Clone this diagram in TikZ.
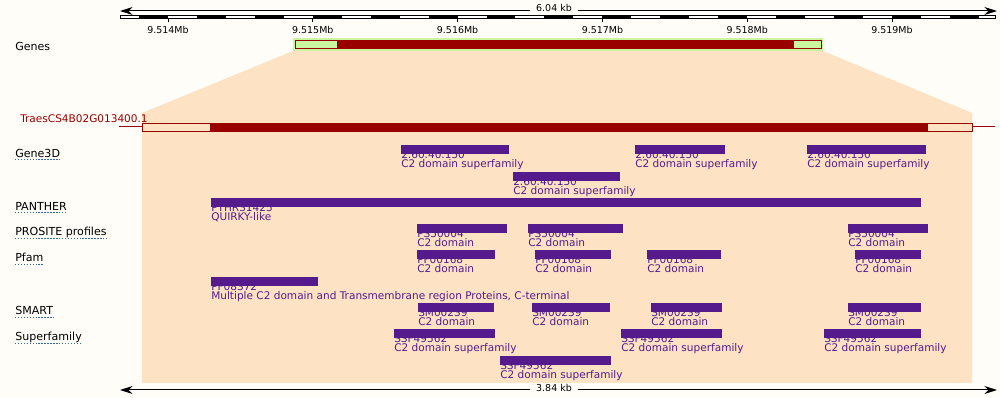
\documentclass[tikz,border=0pt]{standalone}
\usepackage{fontspec}
\setmainfont{DejaVu Sans}
\usetikzlibrary{arrows.meta, positioning}
\definecolor{PageBg}{HTML}{FEFDF8}
\definecolor{ZoomPeach}{HTML}{FDE3C4}
\definecolor{GeneRed}{HTML}{990000}
\definecolor{UtrGreen}{HTML}{CCF5A0}
\definecolor{DomainPurple}{HTML}{551A8B}
\definecolor{LinkBlue}{HTML}{3366AA}
\tikzset{
  % Text styles
  tracklabel/.style={anchor=base west, inner sep=0pt, font=\fontsize{8.3}{9}\selectfont},
  ticklabel/.style={anchor=base, inner sep=0pt, font=\fontsize{7.1}{8}\selectfont},
  kblabel/.style={anchor=base, fill=PageBg, inner xsep=5pt, inner ysep=1pt, font=\fontsize{7.1}{8}\selectfont},
  domlabel/.style={anchor=base west, inner sep=0pt, align=left, text=DomainPurple, font=\fontsize{7.9}{6.75}\selectfont},
  % Shape styles
  dombar/.style={fill=DomainPurple},
  exon/.style={fill=GeneRed},
  utr/.style={draw=GeneRed, line width=0.75pt},
  % Line styles
  scalearrow/.style={{Stealth[length=9.5pt,width=6pt]}-{Stealth[length=9.5pt,width=6pt]}, line width=0.75pt},
  linkline/.style={LinkBlue, line width=0.75pt, dash pattern=on 1.1pt off 1.1pt}
}

\begin{document}
\begin{tikzpicture}[x=0.75pt, y=-0.75pt]
  \useasboundingbox (0,0) rectangle (1000,398);
  \fill[PageBg] (0,0) rectangle (1000,398);

  % Top scale: 6.04 kb
  \coordinate (topL) at (120,11);
  \coordinate (topR) at (997,11);
  \draw[scalearrow] (topL) -- (topR);
  \node[kblabel] (topKb) at (554,12) {6.04 kb};

  % Ruler with alternating blocks
  \draw[line width=0.75pt, fill=white] (120,16) rectangle (995,19);
  \foreach \k in {0,...,14}
    \fill (139+57.92*\k,16) rectangle ++(28.96,3);
  \foreach \k/\pos in {0/9.514, 1/9.515, 2/9.516, 3/9.517, 4/9.518, 5/9.519} {
    \draw[line width=0.75pt] (168+144.8*\k,19) -- ++(0,3);
    \node[ticklabel] (tick\k) at (168+144.8*\k,34) {\pos Mb};
  }

  % Zoomed region
  \fill[ZoomPeach] (293,51) -- (823,51) -- (972,113) -- (972,383) -- (142,383) -- (142,113) -- cycle;

  % Genes
  \node[tracklabel] (lbGenes) at (15,51) {Genes};
  \fill[UtrGreen] (293,38) rectangle (823,51);
  \draw[utr, fill=UtrGreen] (295,40.5) rectangle (821,48.5);
  \fill[exon] (337,40.5) rectangle (794,48.5);

  % Transcript
  \coordinate (trL) at (119,127);
  \coordinate (trR) at (995,127);
  \draw[GeneRed, line width=0.75pt] (trL) -- (trR);
  \draw[utr, fill=ZoomPeach] (142,123.5) rectangle (972,131.5);
  \fill[exon] (210,123.5) rectangle (928,131.5);
  \node[tracklabel, text=GeneRed, font=\fontsize{7.9}{9}\selectfont] (lbTranscript) at (20,122.7) {TraesCS4B02G013400.1};

  % Track names
  \node[tracklabel] (lbGene3D) at (15,157.5) {Gene3D};
  \node[tracklabel] (lbPanther) at (15,210.5) {PANTHER};
  \node[tracklabel] (lbProsite) at (15,236) {PROSITE profiles\ };
  \node[tracklabel] (lbPfam) at (15,262) {Pfam};
  \node[tracklabel] (lbSmart) at (15,315) {SMART};
  \node[tracklabel] (lbSuperfamily) at (15,341) {Superfamily};
  \foreach \n in {lbGene3D, lbPanther, lbProsite, lbPfam, lbSmart, lbSuperfamily}
    \draw[linkline] ([yshift=-1.6pt]\n.base west) -- ([yshift=-1.6pt]\n.base east);

  % Gene3D
  \node[domlabel] (g3dA) at (401,168) {2.60.40.150\\C2 domain superfamily};
  \fill[dombar] (401,145) rectangle (509,154);
  \node[domlabel] (g3dB) at (635,168) {2.60.40.150\\C2 domain superfamily};
  \fill[dombar] (635,145) rectangle (725,154);
  \node[domlabel] (g3dC) at (807,168) {2.60.40.150\\C2 domain superfamily};
  \fill[dombar] (807,145) rectangle (926,154);
  \node[domlabel] (g3dD) at (513,195) {2.60.40.150\\C2 domain superfamily};
  \fill[dombar] (513,172) rectangle (620,181);

  % PANTHER
  \node[domlabel] (pthA) at (211,221) {PTHR31425\\QUIRKY-like};
  \fill[dombar] (211,198) rectangle (921,207);

  % PROSITE profiles
  \node[domlabel] (psA) at (417,247) {PS50004\\C2 domain};
  \fill[dombar] (417,224) rectangle (507,233);
  \node[domlabel] (psB) at (528,247) {PS50004\\C2 domain};
  \fill[dombar] (528,224) rectangle (623,233);
  \node[domlabel] (psC) at (848,247) {PS50004\\C2 domain};
  \fill[dombar] (848,224) rectangle (928,233);

  % Pfam
  \node[domlabel] (pfA) at (417,273) {PF00168\\C2 domain};
  \fill[dombar] (417,250) rectangle (495,259);
  \node[domlabel] (pfB) at (535,273) {PF00168\\C2 domain};
  \fill[dombar] (535,250) rectangle (611,259);
  \node[domlabel] (pfC) at (647,273) {PF00168\\C2 domain};
  \fill[dombar] (647,250) rectangle (721,259);
  \node[domlabel] (pfD) at (855,273) {PF00168\\C2 domain};
  \fill[dombar] (855,250) rectangle (921,259);
  \node[domlabel] (pfE) at (211,300) {PF08372\\Multiple C2 domain and Transmembrane region Proteins, C-terminal};
  \fill[dombar] (211,277) rectangle (318,286);

  % SMART
  \node[domlabel] (smA) at (418,326) {SM00239\\C2 domain};
  \fill[dombar] (418,303) rectangle (494,312);
  \node[domlabel] (smB) at (532,326) {SM00239\\C2 domain};
  \fill[dombar] (532,303) rectangle (610,312);
  \node[domlabel] (smC) at (651,326) {SM00239\\C2 domain};
  \fill[dombar] (651,303) rectangle (722,312);
  \node[domlabel] (smD) at (848,326) {SM00239\\C2 domain};
  \fill[dombar] (848,303) rectangle (921,312);

  % Superfamily
  \node[domlabel] (sfA) at (394,352) {SSF49562\\C2 domain superfamily};
  \fill[dombar] (394,329) rectangle (495,338);
  \node[domlabel] (sfB) at (621,352) {SSF49562\\C2 domain superfamily};
  \fill[dombar] (621,329) rectangle (722,338);
  \node[domlabel] (sfC) at (824,352) {SSF49562\\C2 domain superfamily};
  \fill[dombar] (824,329) rectangle (921,338);
  \node[domlabel] (sfD) at (500,379) {SSF49562\\C2 domain superfamily};
  \fill[dombar] (500,356) rectangle (611,365);

  % Bottom scale: 3.84 kb
  \coordinate (botL) at (120,390);
  \coordinate (botR) at (997,390);
  \draw[scalearrow] (botL) -- (botR);
  \node[kblabel] (botKb) at (554,391.5) {3.84 kb};
\end{tikzpicture}
\end{document}
